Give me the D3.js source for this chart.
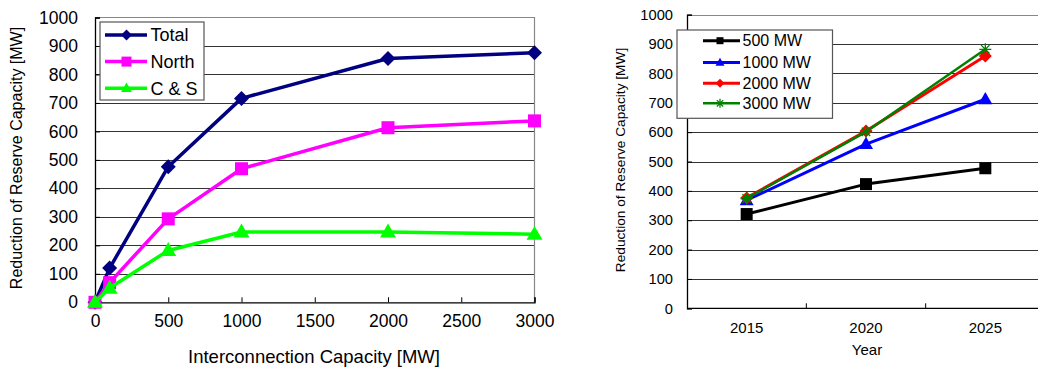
<!DOCTYPE html>
<html><head><meta charset="utf-8">
<script src="https://cdn.jsdelivr.net/npm/d3@7"></script>
<style>body{margin:0;background:#fff}svg{display:block}text{font-family:"Liberation Sans",Arial,sans-serif;fill:#000}</style>
</head><body><svg id="c" width="1038" height="367"></svg>
<script>
// Left chart data
const capacities = [0, 100, 500, 1000, 2000, 3000];
const totalVals  = [0, 120, 476, 716, 856, 876];
const northVals  = [0, 69, 293, 469, 613, 637];
const csVals     = [0, 50, 182, 247, 247, 239];
const leftXTicks = [0, 500, 1000, 1500, 2000, 2500, 3000];
const leftYTicks = [0, 100, 200, 300, 400, 500, 600, 700, 800, 900, 1000];
// Right chart data
const years    = ["2015", "2020", "2025"];
const mw500    = [321, 423, 477];
const mw1000   = [368, 559, 712];
const mw2000   = [376, 604, 859];
const mw3000   = [374, 601, 882];
const rightYTicks = [0, 100, 200, 300, 400, 500, 600, 700, 800, 900, 1000];

const svg = d3.select("#c");

function drawMarker(g, type, x, y, size, color) {
  if (type === "diamond") {
    g.append("path").attr("d", `M${x},${y-size/2}L${x+size/2},${y}L${x},${y+size/2}L${x-size/2},${y}Z`).attr("fill", color);
  } else if (type === "square") {
    g.append("rect").attr("x", x-size/2).attr("y", y-size/2).attr("width", size).attr("height", size).attr("fill", color);
  } else if (type === "triangle") {
    const h = size*0.87;
    g.append("path").attr("d", `M${x},${y-h*0.6}L${x+size/2},${y+h*0.4}L${x-size/2},${y+h*0.4}Z`).attr("fill", color);
  } else if (type === "star") {
    const r = size/2;
    const p = [`M${x-r},${y}L${x+r},${y}`, `M${x-r*0.7},${y-r*0.7}L${x+r*0.7},${y+r*0.7}`, `M${x-r*0.7},${y+r*0.7}L${x+r*0.7},${y-r*0.7}`, `M${x},${y-r}L${x},${y+r}`].join("");
    g.append("path").attr("d", p).attr("stroke", color).attr("stroke-width", 1.3).attr("fill", "none");
  }
}

// ---------- LEFT CHART ----------
{
  const L = 95, R = 534.5, T = 17.5, B = 302.3;
  const x = d3.scaleLinear().domain([0, 3000]).range([L, R]);
  const y = d3.scaleLinear().domain([0, 1000]).range([B, T]);
  const g = svg.append("g");
  g.selectAll(".gl").data(leftYTicks.filter(v => v > 0 && v < 1000)).enter().append("line")
    .attr("x1", L).attr("x2", R).attr("y1", d => Math.round(y(d))+0.5).attr("y2", d => Math.round(y(d))+0.5)
    .attr("stroke", "#333").attr("stroke-width", 1);
  g.append("path").attr("d", `M${L},${T}H${R}V${B}`).attr("fill", "none").attr("stroke", "#888").attr("stroke-width", 1.2);
  const xa = d3.axisBottom(x).tickValues(leftXTicks).tickSize(-5).tickPadding(12).tickFormat(d3.format("d"));
  const xg = g.append("g").attr("transform", `translate(0,${B})`).call(xa);
  xg.select(".domain").attr("stroke", "#000").attr("stroke-width", 1.3);
  xg.selectAll(".tick line").attr("stroke", "#000");
  xg.selectAll("text").attr("font-size", 17.5).attr("dy", "0.71em");
  const ya = d3.axisLeft(y).tickValues(leftYTicks).tickSize(-5).tickPadding(17).tickFormat(d3.format("d"));
  const yg = g.append("g").attr("transform", `translate(${L},0)`).call(ya);
  yg.select(".domain").attr("stroke", "#000").attr("stroke-width", 1.3);
  yg.selectAll(".tick line").attr("stroke", "#000");
  yg.selectAll("text").attr("font-size", 17.5);
  g.append("text").attr("x", 314).attr("y", 363).attr("text-anchor", "middle").attr("font-size", 18.5).text("Interconnection Capacity [MW]");
  g.append("text").attr("transform", "translate(22,158) rotate(-90)").attr("text-anchor", "middle").attr("font-size", 16).text("Reduction of Reserve Capacity [MW]");
  const series = [
    {name: "Total", vals: totalVals, color: "#000080", m: "diamond", ms: 15, lms: 11},
    {name: "North", vals: northVals, color: "#ff00ff", m: "square", ms: 13, lms: 10},
    {name: "C & S", vals: csVals, color: "#00ff00", m: "triangle", ms: 16, lms: 11}
  ];
  const line = d3.line().x(d => x(d[0])).y(d => y(d[1]));
  series.forEach(s => {
    const pts = capacities.map((c, i) => [c, s.vals[i]]);
    g.append("path").attr("d", line(pts)).attr("fill", "none").attr("stroke", s.color).attr("stroke-width", 3.5).attr("stroke-linejoin", "round");
    pts.forEach(p => drawMarker(g, s.m, x(p[0]), y(p[1]), s.ms, s.color));
  });
  const lg = g.append("g");
  lg.append("rect").attr("x", 100).attr("y", 22).attr("width", 104).attr("height", 78).attr("fill", "#fff").attr("stroke", "#555").attr("stroke-width", 1.2);
  series.forEach((s, i) => {
    const yy = 35 + i * 26.6;
    lg.append("line").attr("x1", 105).attr("x2", 147).attr("y1", yy).attr("y2", yy).attr("stroke", s.color).attr("stroke-width", 3.5);
    drawMarker(lg, s.m, 126.5, yy, s.lms, s.color);
    lg.append("text").attr("x", 150.5).attr("y", yy).attr("dy", "0.35em").attr("font-size", 18).text(s.name);
  });
}

// ---------- RIGHT CHART ----------
{
  const L = 687, R = 1045, T = 14.7, B = 308.3;
  const xb = d3.scaleBand().domain(years).range([L, R]);
  const y = d3.scaleLinear().domain([0, 1000]).range([B, T]);
  const cx = d => xb(d) + xb.bandwidth()/2;
  const g = svg.append("g");
  g.selectAll(".gl").data(rightYTicks.filter(v => v > 0)).enter().append("line")
    .attr("x1", L).attr("x2", R).attr("y1", d => Math.round(y(d))+0.5).attr("y2", d => Math.round(y(d))+0.5)
    .attr("stroke", d => d === 1000 ? "#888" : "#333").attr("stroke-width", 1);
  g.append("line").attr("x1", L).attr("x2", R).attr("y1", B).attr("y2", B).attr("stroke", "#000").attr("stroke-width", 1.3);
  g.selectAll(".bt").data(years.slice(1)).enter().append("line")
    .attr("x1", d => xb(d)).attr("x2", d => xb(d)).attr("y1", B).attr("y2", B-5).attr("stroke", "#000");
  g.selectAll(".xl").data(years).enter().append("text")
    .attr("x", d => cx(d)).attr("y", 328).attr("dy", "0.35em").attr("text-anchor", "middle").attr("font-size", 15).text(d => d);
  const ya = d3.axisLeft(y).tickValues(rightYTicks).tickSize(-5).tickPadding(14).tickFormat(d3.format("d"));
  const yg = g.append("g").attr("transform", `translate(${L},0)`).call(ya);
  yg.select(".domain").attr("stroke", "#000").attr("stroke-width", 1.3);
  yg.selectAll(".tick line").attr("stroke", "#000");
  yg.selectAll("text").attr("font-size", 14.7);
  g.append("text").attr("x", 867).attr("y", 350).attr("dy", "0.35em").attr("text-anchor", "middle").attr("font-size", 15).text("Year");
  g.append("text").attr("transform", "translate(625,160) rotate(-90)").attr("text-anchor", "middle").attr("font-size", 13.7).text("Reduction of Reserve Capacity [MW]");
  const series = [
    {name: "500 MW", vals: mw500, color: "#000000", m: "square", ms: 12, lms: 7, w: 3},
    {name: "1000 MW", vals: mw1000, color: "#0000ff", m: "triangle", ms: 14, lms: 9, w: 3},
    {name: "2000 MW", vals: mw2000, color: "#ff0000", m: "diamond", ms: 13, lms: 9, w: 3},
    {name: "3000 MW", vals: mw3000, color: "#008000", m: "star", ms: 12, lms: 9, w: 2.5}
  ];
  const line = d3.line().x(d => cx(d[0])).y(d => y(d[1]));
  series.forEach(s => {
    const pts = years.map((yr, i) => [yr, s.vals[i]]);
    g.append("path").attr("d", line(pts)).attr("fill", "none").attr("stroke", s.color).attr("stroke-width", s.w).attr("stroke-linejoin", "round");
    pts.forEach(p => drawMarker(g, s.m, cx(p[0]), y(p[1]), s.ms, s.color));
  });
  const lg = g.append("g");
  lg.append("rect").attr("x", 677).attr("y", 30).attr("width", 155.5).attr("height", 88.3).attr("fill", "#fff").attr("stroke", "#555").attr("stroke-width", 1.2);
  series.forEach((s, i) => {
    const yy = [40.7, 62.5, 83.3, 103.3][i];
    lg.append("line").attr("x1", 703).attr("x2", 740).attr("y1", yy).attr("y2", yy).attr("stroke", s.color).attr("stroke-width", s.w);
    drawMarker(lg, s.m, 720, yy, s.lms, s.color);
    lg.append("text").attr("x", 742.5).attr("y", yy).attr("dy", "0.35em").attr("font-size", 16).text(s.name);
  });
}
</script></body></html>
